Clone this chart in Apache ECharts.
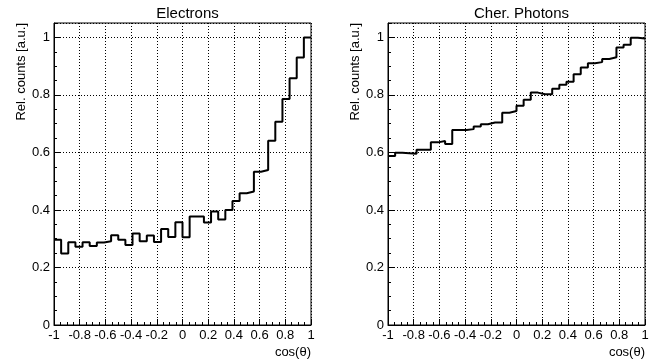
<!DOCTYPE html>
<html>
<head>
<meta charset="utf-8">
<script src="https://cdn.jsdelivr.net/npm/echarts@6/dist/echarts.min.js"></script>
<style>html,body{margin:0;padding:0;background:#fff;}#c{width:660px;height:364px;}</style>
</head>
<body>
<div id="c"></div>
<script>
// ---- data ----
const panelTitles = ['Electrons', 'Cher. Photons'];
const xAxisTitle = 'cos(\u03b8)';
const yAxisTitle = 'Rel. counts [a.u.]';
const xRange = [-1, 1];
const nBins = 36;
const yRange = [0, 1.05];
const electrons = [0.296, 0.249, 0.288, 0.272, 0.288, 0.275, 0.287, 0.291, 0.312, 0.296,
  0.278, 0.318, 0.291, 0.311, 0.289, 0.334, 0.306, 0.357, 0.305, 0.377,
  0.377, 0.356, 0.395, 0.367, 0.400, 0.431, 0.458, 0.464, 0.533, 0.539,
  0.641, 0.707, 0.786, 0.858, 0.930, 1.000];
const photons = [0.588, 0.599, 0.597, 0.595, 0.609, 0.609, 0.635, 0.640, 0.629, 0.678,
  0.678, 0.681, 0.690, 0.698, 0.704, 0.704, 0.738, 0.744, 0.762, 0.783,
  0.808, 0.802, 0.802, 0.821, 0.835, 0.846, 0.872, 0.895, 0.910, 0.914,
  0.925, 0.931, 0.965, 0.974, 0.999, 0.996];

// ---- build ----
const FONT = "'Liberation Sans', Arial, Helvetica, sans-serif";
const binW = (xRange[1] - xRange[0]) / nBins;
function stepData(vals) {
  const d = vals.map((v, i) => [xRange[0] + i * binW, v]);
  d.push([xRange[1], vals[vals.length - 1]]);
  return d;
}
const grids = [
  {left: 54, right: 349, top: 23, bottom: 39},
  {left: 388, right: 15, top: 23, bottom: 39}
];
const dotted = {color: '#000', width: 1, type: [1, 2]};
const xAxes = [], yAxes = [], series = [];
grids.forEach((g, gi) => {
  g.show = true; g.borderColor = '#000'; g.borderWidth = 1; g.backgroundColor = 'transparent';
  xAxes.push({
    type: 'value', gridIndex: gi, min: xRange[0], max: xRange[1], interval: 0.2,
    axisLine: {show: true, onZero: false, lineStyle: {color: '#000', width: 1}},
    axisTick: {show: true, inside: true, length: 6, lineStyle: {color: '#000'}},
    minorTick: {show: true, splitNumber: 4, length: 3, lineStyle: {color: '#000'}},
    axisLabel: {color: '#000', fontFamily: FONT, fontSize: 13, margin: 4,
      showMinLabel: true, showMaxLabel: true, hideOverlap: false},
    splitLine: {show: true, lineStyle: dotted}
  });
  yAxes.push({
    type: 'value', gridIndex: gi, min: yRange[0], max: yRange[1], interval: 0.2,
    axisLine: {show: true, onZero: false, lineStyle: {color: '#000', width: 1}},
    axisTick: {show: true, inside: true, length: 6, lineStyle: {color: '#000'}},
    axisLabel: {color: '#000', fontFamily: FONT, fontSize: 13, margin: 4, showMaxLabel: false},
    splitLine: {show: true, lineStyle: dotted}
  });
  yAxes.push({
    type: 'value', gridIndex: gi, position: 'left', offset: 0,
    min: yRange[0], max: yRange[1], interval: 0.05,
    axisLine: {show: false, onZero: false},
    axisTick: {show: true, inside: true, length: 3, lineStyle: {color: '#000'}},
    axisLabel: {show: false}, splitLine: {show: false}
  });
});
[electrons, photons].forEach((vals, gi) => {
  series.push({
    type: 'line', step: 'end', xAxisIndex: gi, yAxisIndex: gi * 2,
    data: stepData(vals), showSymbol: false, symbol: 'none',
    lineStyle: {color: '#000', width: 2}, z: 5, animation: false
  });
});
const titles = panelTitles.map((t, i) => {
  const g = grids[i];
  const cx = g.left + (660 - g.left - g.right) / 2;
  return {text: t, left: cx, top: 1, textAlign: 'center',
    textStyle: {fontFamily: FONT, fontSize: 15, fontWeight: 'normal', color: '#000'}};
});
const graphics = [];
grids.forEach((g, i) => {
  graphics.push({type: 'text', x: g.left - 33, y: g.top, rotation: Math.PI / 2,
    style: {text: yAxisTitle, fontFamily: FONT, fontSize: 13, fill: '#000',
      align: 'right', verticalAlign: 'middle'}});
  graphics.push({type: 'text', x: 660 - g.right, y: 352,
    style: {text: xAxisTitle, fontFamily: FONT, fontSize: 13, fill: '#000',
      align: 'right', verticalAlign: 'middle'}});
});
const chart = echarts.init(document.getElementById('c'), null, {renderer: 'canvas'});
chart.setOption({
  animation: false,
  backgroundColor: '#fff',
  title: titles,
  grid: grids,
  xAxis: xAxes,
  yAxis: yAxes,
  series: series,
  graphic: graphics
});
</script>
</body>
</html>
